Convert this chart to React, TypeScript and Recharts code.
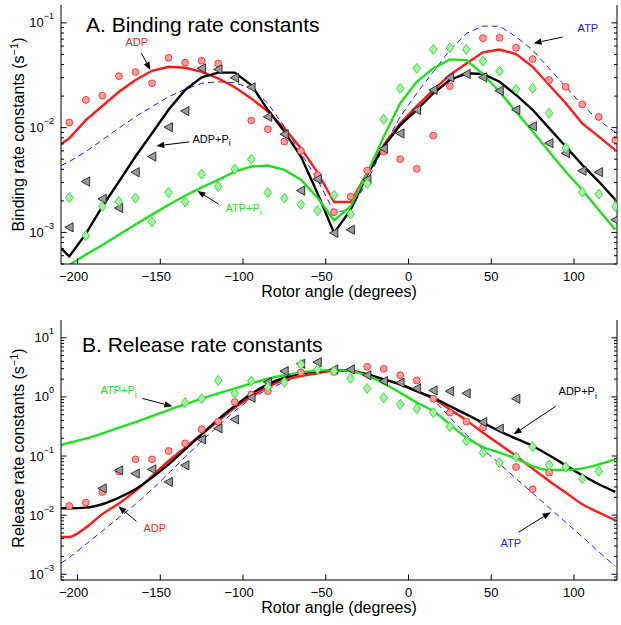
import React from 'react';
import { ComposedChart, Line, XAxis, YAxis, ReferenceLine, ReferenceDot } from 'recharts';

const FONT = '"Liberation Sans", Arial, Helvetica, sans-serif';

// rotor angles (first entry only used by the model curves)
const angles = [-210, -205, -195, -185, -175, -165, -155, -145, -135, -125, -115, -105, -95, -85, -75, -65, -55, -45, -35, -25, -15, -5, 5, 15, 25, 35, 45, 55, 65, 75, 85, 95, 105, 115, 125];

// ---------- Panel A: binding rate constants ----------
const adpBindObs = [null, 0.0112, 0.0184, 0.0202, 0.031, 0.0339, 0.0265, 0.0464, 0.0416, 0.0435, 0.041, null, 0.0117, 0.00966, 0.00736, 0.006, 0.00352, 0.00156, 0.0022, 0.00389, 0.0059, 0.005, 0.00405, 0.0084, 0.0249, null, 0.0714, 0.072, 0.0578, 0.0451, 0.0285, 0.0245, 0.0167, 0.01265, 0.00764];
const adpPiBindObs = [null, 0.00112, 0.00306, 0.00209, 0.00171, 0.00376, 0.0053, 0.0101, 0.0144, 0.0368, 0.036, 0.0299, 0.0243, 0.0127, 0.00865, 0.00251, 0.00323, 0.00099, 0.00106, 0.0032, 0.0063, 0.0088, 0.01475, 0.0229, 0.03, 0.0325, 0.0302, 0.0225, 0.0148, 0.0103, 0.0071, 0.0057, 0.00387, 0.00376, 0.00132];
const atpPiBindObs = [null, 0.00215, 0.00093, 0.00177, 0.00197, 0.00213, 0.00126, 0.0024, 0.00195, 0.0036, 0.00274, 0.00402, 0.005, 0.0024, 0.00213, 0.00185, 0.00162, 0.00227, 0.0015, 0.00293, 0.012, 0.0237, 0.0368, 0.0558, 0.0578, 0.0558, 0.0431, 0.0347, 0.0232, 0.0237, 0.0137, 0.0064, 0.00243, 0.00232, 0.00177];

const adpBindFit = [0.007, 0.0079, 0.0118, 0.0161, 0.022, 0.0285, 0.0349, 0.0381, 0.0373, 0.0341, 0.0295, 0.0243, 0.019, 0.0142, 0.00987, 0.00637, 0.00375, 0.00195, 0.00195, 0.00368, 0.00685, 0.011, 0.0161, 0.0229, 0.0318, 0.041, 0.0523, 0.0557, 0.0503, 0.0381, 0.0255, 0.0171, 0.011, 0.0082, 0.0061];
const atpBindFit = [0.00434, 0.00474, 0.0059, 0.00764, 0.0099, 0.0127, 0.0159, 0.0197, 0.0232, 0.0265, 0.0274, 0.0268, 0.0237, 0.0171, 0.0102, 0.0057, 0.0032, 0.00156, 0.00164, 0.00306, 0.0066, 0.0127, 0.0213, 0.0341, 0.055, 0.0792, 0.093, 0.093, 0.0738, 0.055, 0.0368, 0.0246, 0.0164, 0.0118, 0.009];
const adpPiBindFit = [0.00071, 0.00059, 0.00097, 0.00177, 0.00306, 0.0053, 0.00885, 0.0148, 0.0229, 0.0302, 0.0335, 0.0335, 0.0255, 0.0148, 0.00917, 0.0053, 0.00237, 0.00099, 0.00164, 0.00355, 0.0066, 0.0106, 0.0148, 0.0213, 0.0285, 0.033, 0.0325, 0.0274, 0.0205, 0.0148, 0.0099, 0.0066, 0.00442, 0.00306, 0.00205];
const atpPiBindFit = [0.00044, 0.00049, 0.000614, 0.00076, 0.00095, 0.00119, 0.00148, 0.00184, 0.00224, 0.00269, 0.00318, 0.0038, 0.00426, 0.00435, 0.00395, 0.00318, 0.00215, 0.0013, 0.00177, 0.00368, 0.0082, 0.0171, 0.0274, 0.0368, 0.0448, 0.0441, 0.0325, 0.022, 0.0142, 0.00917, 0.0059, 0.0038, 0.00255, 0.00164, 0.00106];

// ---------- Panel B: release rate constants ----------
const adpRelObs = [null, 0.0143, 0.0163, 0.0247, 0.0545, 0.0879, 0.0879, 0.1217, 0.164, 0.283, 0.381, 0.817, 1.1, 1.25, null, 2.6, null, 2.63, null, 3.24, 2.99, 2.33, 1.9, 0.933, 0.541, 0.381, 0.302, null, 0.0652, 0.0274, 0.0525, null, null, null, null];
const adpPiRelObs = [null, null, null, 0.0284, 0.0573, 0.0505, 0.0596, 0.0364, 0.0697, 0.191, 0.294, 0.417, 0.968, 1.78, 2.73, 3.64, 3.87, 2.92, 2.92, 2.33, 1.85, 1.74, 1.39, 1.29, 1.25, 1.15, 0.375, 0.29, 0.933, null, null, null, null, null, null];
const atpPiRelObs = [null, null, null, null, null, null, null, null, 0.798, 0.933, 1.9, 1.15, 1.85, 1.47, 1.78, 3.54, 2.9, 2.73, 2.06, 1.39, 0.968, 0.747, 0.63, 0.54, 0.314, 0.179, 0.114, 0.0774, 0.0961, 0.144, 0.0705, 0.0652, 0.0415, 0.0558, null];

const atpPiRelFit = [0.152, 0.168, 0.197, 0.241, 0.302, 0.375, 0.474, 0.599, 0.747, 0.933, 1.146, 1.39, 1.69, 2.03, 2.33, 2.6, 2.78, 2.84, 2.73, 2.31, 1.69, 1.18, 0.8, 0.576, 0.343, 0.205, 0.142, 0.114, 0.0903, 0.0678, 0.058, 0.058, 0.0619, 0.0724, 0.0879];
const adpPiRelFit = [0.0131, 0.0131, 0.0134, 0.0153, 0.0198, 0.0274, 0.0431, 0.0724, 0.13, 0.233, 0.417, 0.7, 1.13, 1.63, 2.11, 2.49, 2.67, 2.84, 2.73, 2.4, 1.98, 1.63, 1.25, 0.968, 0.7, 0.506, 0.366, 0.264, 0.197, 0.148, 0.103, 0.0697, 0.0472, 0.0333, 0.0247];
const adpRelFit = [0.00428, 0.00428, 0.00618, 0.0104, 0.0157, 0.0257, 0.0459, 0.0824, 0.139, 0.233, 0.391, 0.658, 1.0, 1.49, 1.92, 2.25, 2.5, 2.8, 2.8, 2.4, 1.98, 1.63, 1.25, 0.933, 0.615, 0.401, 0.248, 0.158, 0.1, 0.0612, 0.0379, 0.0241, 0.0153, 0.0111, 0.0082];
const atpRelFit = [0.00154, 0.00192, 0.00322, 0.0054, 0.0091, 0.0153, 0.0274, 0.051, 0.096, 0.179, 0.321, 0.575, 0.933, 1.34, 1.78, 2.24, 2.49, 2.75, 2.75, 2.4, 1.98, 1.63, 1.25, 0.88, 0.45, 0.23, 0.13, 0.0738, 0.0417, 0.0236, 0.0134, 0.0076, 0.0043, 0.0024, 0.00137];

// ---------- axes ----------
const xDomain = [-210, 126];
const xTicks = [-200, -150, -100, -50, 0, 50, 100];
const yDomainA = [5e-4, 0.148];
const yTicksA = [5e-4, 6e-4, 7e-4, 8e-4, 9e-4, 1e-3, 2e-3, 3e-3, 4e-3, 5e-3, 6e-3, 7e-3, 8e-3, 9e-3, 1e-2, 2e-2, 3e-2, 4e-2, 5e-2, 6e-2, 7e-2, 8e-2, 9e-2, 1e-1];
const yDomainB = [8e-4, 20];
const yTicksB = [8e-4, 9e-4, 1e-3, 2e-3, 3e-3, 4e-3, 5e-3, 6e-3, 7e-3, 8e-3, 9e-3, 1e-2, 2e-2, 3e-2, 4e-2, 5e-2, 6e-2, 7e-2, 8e-2, 9e-2, 1e-1, 0.2, 0.3, 0.4, 0.5, 0.6, 0.7, 0.8, 0.9, 1, 2, 3, 4, 5, 6, 7, 8, 9, 10];

const dataA = angles.map((a, i) => ({
  angle: a,
  adpObs: adpBindObs[i], adpPiObs: adpPiBindObs[i], atpPiObs: atpPiBindObs[i],
  adpFit: adpBindFit[i], atpFit: atpBindFit[i], adpPiFit: adpPiBindFit[i], atpPiFit: atpPiBindFit[i],
}));
const dataB = angles.map((a, i) => ({
  angle: a,
  adpObs: adpRelObs[i], adpPiObs: adpPiRelObs[i], atpPiObs: atpPiRelObs[i],
  adpFit: adpRelFit[i], atpFit: atpRelFit[i], adpPiFit: adpPiRelFit[i], atpPiFit: atpPiRelFit[i],
}));

const RED = '#ff1a1a';
const GREEN = '#1fe01f';
const BLUE = '#1a1aff';

const ok = (v: any) => typeof v === 'number' && isFinite(v);

const CircleDot = (p: any) => ok(p.cx) && ok(p.cy) && p.value != null
  ? <circle key={p.index} cx={p.cx} cy={p.cy} r={3.4} fill="#ff9c9c" stroke="#ff2a2a" strokeWidth={0.9} />
  : <g key={p.index} />;
const DiamondDot = (p: any) => ok(p.cx) && ok(p.cy) && p.value != null
  ? <polygon key={p.index} points={`${p.cx},${p.cy - 5} ${p.cx + 3.8},${p.cy} ${p.cx},${p.cy + 5} ${p.cx - 3.8},${p.cy}`} fill="#a4f2a4" stroke="#2fd82f" strokeWidth={0.9} />
  : <g key={p.index} />;
const TriDot = (p: any) => ok(p.cx) && ok(p.cy) && p.value != null
  ? <polygon key={p.index} points={`${p.cx - 4.5},${p.cy} ${p.cx + 3.8},${p.cy - 4.6} ${p.cx + 3.8},${p.cy + 4.6}`} fill="#9a9a9a" stroke="#222" strokeWidth={0.9} />
  : <g key={p.index} />;

const isMajor = (v: number) => Math.abs(Math.log10(v) - Math.round(Math.log10(v))) < 1e-6;

const LeftTick = (p: any) => {
  const v = p.payload.value;
  const major = isMajor(v);
  const e = Math.round(Math.log10(v));
  return (
    <g>
      <line x1={p.x} x2={p.x + (major ? 5.5 : 3)} y1={p.y} y2={p.y} stroke="#000" strokeWidth={1} />
      {major && (
        <text x={p.x - 7} y={p.y + 4.5} textAnchor="end" fontSize={13} fontFamily={FONT} fill="#000">
          <tspan>10</tspan>
          <tspan dy={-8} fontSize={9}>{e < 0 ? '\u2212' + -e : String(e)}</tspan>
        </text>
      )}
    </g>
  );
};
const RightTick = (p: any) => {
  const major = isMajor(p.payload.value);
  return <line x1={p.x} x2={p.x - (major ? 5.5 : 3)} y1={p.y} y2={p.y} stroke="#000" strokeWidth={1} />;
};
const BottomTick = (p: any) => {
  const v = p.payload.value;
  return (
    <g>
      <line x1={p.x} x2={p.x} y1={p.y} y2={p.y - 5.5} stroke="#000" strokeWidth={1} />
      <text x={v < 0 ? p.x - 4 : p.x} y={p.y + 17} textAnchor="middle" fontSize={13} fontFamily={FONT} fill="#000">
        {v < 0 ? '\u2212' + -v : String(v)}
      </text>
    </g>
  );
};
const TopTick = (p: any) => <line x1={p.x} x2={p.x} y1={p.y} y2={p.y + 5.5} stroke="#000" strokeWidth={1} />;

const Arrow = (p: any) => {
  const { x1, y1, x2, y2 } = p;
  if (![x1, y1, x2, y2].every(ok)) return <g />;
  const ang = Math.atan2(y2 - y1, x2 - x1);
  const L = 8, W = 3.2;
  const bx = x2 - L * Math.cos(ang), by = y2 - L * Math.sin(ang);
  const px = -Math.sin(ang) * W, py = Math.cos(ang) * W;
  return (
    <g>
      <line x1={x1} y1={y1} x2={bx} y2={by} stroke="#000" strokeWidth={1} />
      <polygon points={`${x2},${y2} ${bx + px},${by + py} ${bx - px},${by - py}`} fill="#000" />
    </g>
  );
};

const makeLabel = (text: string, color: string, sub?: string) => (p: any) =>
  ok(p.cx) && ok(p.cy) ? (
    <text x={p.cx} y={p.cy} fontSize={11} fontFamily={FONT} fill={color}>
      <tspan>{text}</tspan>
      {sub && <tspan dy={3.5} fontSize={9}>{sub}</tspan>}
    </text>
  ) : <g />;

type Ann = { text: string; sub?: string; color: string; tx: number; ty: number; a: number[] };

const annA: Ann[] = [
  { text: 'ADP', color: RED, tx: -171, ty: 0.06, a: [-161.4, 0.0514, -156, 0.0355] },
  { text: 'ADP+P', sub: 'i', color: '#000', tx: -130.6, ty: 0.00715, a: [-132.4, 0.00731, -152.4, 0.0067] },
  { text: 'ATP+P', sub: 'i', color: GREEN, tx: -110.6, ty: 0.00157, a: [-114.9, 0.00187, -127.6, 0.00249] },
  { text: 'ATP', color: BLUE, tx: 102.2, ty: 0.0815, a: [93.1, 0.0731, 75.6, 0.064] },
];
const annB: Ann[] = [
  { text: 'ATP+P', sub: 'i', color: GREEN, tx: -186.2, ty: 1.1, a: [-160.8, 0.944, -142.7, 0.692] },
  { text: 'ADP', color: RED, tx: -160.2, ty: 0.00514, a: [-164.4, 0.00789, -175.3, 0.0141] },
  { text: 'ADP+P', sub: 'i', color: '#000', tx: 90.7, ty: 1.06, a: [88.9, 0.692, 63.5, 0.233] },
  { text: 'ATP', color: BLUE, tx: 55.6, ty: 0.00287, a: [66.5, 0.00514, 85.9, 0.0112] },
];

const Panel = ({ data, yDomain, yTicks, marginTop, height, xAxisHeight, ann, smooth }: any) => {
  const t = smooth ? 'monotone' : 'linear';
  return (
    <ComposedChart width={621} height={height} data={data} margin={{ top: marginTop, right: 0, bottom: 0, left: 0 }}>
      <XAxis dataKey="angle" type="number" domain={xDomain} ticks={xTicks} interval={0} allowDataOverflow
        height={xAxisHeight} tickSize={0} tickMargin={0} tickLine={false} axisLine={{ stroke: '#000', strokeWidth: 1 }} tick={BottomTick} />
      <XAxis xAxisId="top" orientation="top" dataKey="angle" type="number" domain={xDomain} ticks={xTicks} interval={0} allowDataOverflow
        height={0} tickSize={0} tickMargin={0} tickLine={false} axisLine={{ stroke: '#000', strokeWidth: 1 }} tick={TopTick} />
      <YAxis type="number" scale="log" domain={yDomain} ticks={yTicks} interval={0} allowDataOverflow width={61}
        tickSize={0} tickMargin={0} tickLine={false} axisLine={{ stroke: '#000', strokeWidth: 1 }} tick={LeftTick} />
      <YAxis yAxisId="right" orientation="right" type="number" scale="log" domain={yDomain} ticks={yTicks} interval={0} allowDataOverflow width={4}
        tickSize={0} tickMargin={0} tickLine={false} axisLine={{ stroke: '#000', strokeWidth: 1 }} tick={RightTick} />

      <Line dataKey="adpObs" stroke="none" dot={CircleDot} activeDot={false} isAnimationActive={false} legendType="none" />
      <Line dataKey="atpFit" type={t} stroke={BLUE} strokeWidth={1} strokeDasharray="6 4" dot={false} activeDot={false} isAnimationActive={false} />
      <Line dataKey="adpFit" type={t} stroke={RED} strokeWidth={2.4} dot={false} activeDot={false} isAnimationActive={false} />
      <Line dataKey="adpPiObs" stroke="none" dot={TriDot} activeDot={false} isAnimationActive={false} legendType="none" />
      <Line dataKey="adpPiFit" type={t} stroke="#000" strokeWidth={2.4} dot={false} activeDot={false} isAnimationActive={false} />
      <Line dataKey="atpPiObs" stroke="none" dot={DiamondDot} activeDot={false} isAnimationActive={false} legendType="none" />
      <Line dataKey="atpPiFit" type={t} stroke={GREEN} strokeWidth={2.4} dot={false} activeDot={false} isAnimationActive={false} />

      {ann.map((n: Ann, i: number) => (
        <ReferenceLine key={'a' + i} segment={[{ x: n.a[0], y: n.a[1] }, { x: n.a[2], y: n.a[3] }]} shape={Arrow} ifOverflow="visible" />
      ))}
      {ann.map((n: Ann, i: number) => (
        <ReferenceDot key={'t' + i} x={n.tx} y={n.ty} r={0} shape={makeLabel(n.text, n.color, n.sub)} ifOverflow="visible" />
      ))}
    </ComposedChart>
  );
};

export default function App() {
  return (
    <div style={{ position: 'absolute', left: 0, top: 0, width: 621, height: 625, background: '#fff' }}>
      <div style={{ position: 'absolute', left: 0, top: 0 }}>
        <Panel data={dataA} yDomain={yDomainA} yTicks={yTicksA} marginTop={5} height={310} xAxisHeight={46} ann={annA} smooth={false} />
      </div>
      <div style={{ position: 'absolute', left: 0, top: 310 }}>
        <Panel data={dataB} yDomain={yDomainB} yTicks={yTicksB} marginTop={10} height={315} xAxisHeight={45} ann={annB} smooth={true} />
      </div>
      <svg width={621} height={625} style={{ position: 'absolute', left: 0, top: 0, pointerEvents: 'none' }} fontFamily={FONT}>
        <text x={86} y={31.5} fontSize={21} fill="#000">A. Binding rate constants</text>
        <text x={82} y={352} fontSize={21} fill="#000">B. Release rate constants</text>
        <text x={339} y={297} fontSize={16} textAnchor="middle" fill="#000">Rotor angle (degrees)</text>
        <text x={339} y={613} fontSize={16} textAnchor="middle" fill="#000">Rotor angle (degrees)</text>
        <text transform="translate(24,134.5) rotate(-90)" fontSize={16} textAnchor="middle" fill="#000">
          Binding rate constants (s<tspan dy={-6} fontSize={11}>{'\u2212'}1</tspan><tspan dy={6}>)</tspan>
        </text>
        <text transform="translate(24,448) rotate(-90)" fontSize={16} textAnchor="middle" fill="#000">
          Release rate constants (s<tspan dy={-6} fontSize={11}>{'\u2212'}1</tspan><tspan dy={6}>)</tspan>
        </text>
      </svg>
    </div>
  );
}
